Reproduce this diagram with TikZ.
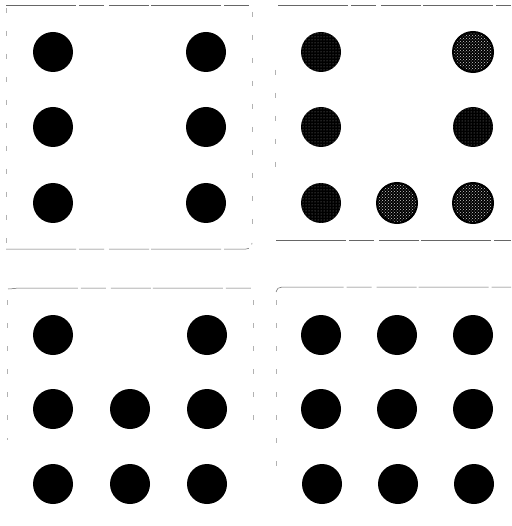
\documentclass[tikz,border=0pt]{standalone}
\usetikzlibrary{patterns}
\begin{document}
\begin{tikzpicture}[x=1pt,y=-1pt,
  dot/.style={circle,fill=black,inner sep=0pt,minimum size=40pt},
  speck/.style={circle,fill=black,inner sep=0pt,minimum size=40pt,postaction={pattern=dots,pattern color=black!45}},
  light/.style={circle,fill=black,inner sep=0pt,minimum size=40pt,postaction={pattern=crosshatch dots,pattern color=black!20},postaction={draw=black,line width=2pt}},
  edge/.style={black!60,line width=0.5pt,dash pattern=on 70pt off 3pt on 25pt off 5pt on 40pt off 2pt},
  side/.style={black!30,line width=0.5pt,dash pattern=on 5pt off 18pt}]
\useasboundingbox (0,0) rectangle (511,526);
\fill[white] (0,0) rectangle (511,526);
% panel borders
\draw[edge] (6,5) -- (252,5);
\draw[edge] (6,249) -- (246,249) to[out=0,in=-90] (252,243);
\draw[side] (6,8) -- (6,245);
\draw[side] (252,12) -- (252,240);
\draw[edge] (278,5) -- (511,5);
\draw[edge] (276,240) -- (511,240);
\draw[side] (275,70) -- (275,170);
\draw[edge] (8,289) to[out=0,in=180] (20,288) -- (252,288);
\draw[side] (7,300) -- (7,440);
\draw[side] (253,300) -- (253,430);
\draw[edge] (276,292) to[out=90,in=180] (282,287) -- (511,287);
\draw[side] (276,300) -- (276,480);
% panel 1
\node[dot] (a11) at (53,52) {};
\node[dot] (a13) at (206,52) {};
\node[dot] (a21) at (53,127) {};
\node[dot] (a23) at (206,127) {};
\node[dot] (a31) at (53,203) {};
\node[dot] (a33) at (206,203) {};
% panel 2
\node[speck] (b11) at (321,52) {};
\node[light] (b13) at (473,52) {};
\node[speck] (b21) at (321,127) {};
\node[speck] (b23) at (473,127) {};
\node[speck] (b31) at (321,203) {};
\node[light] (b32) at (397,203) {};
\node[light] (b33) at (473,203) {};
% panel 3
\node[dot] (c11) at (53,335) {};
\node[dot] (c13) at (207,335) {};
\node[dot] (c21) at (53,409) {};
\node[dot] (c22) at (130,409) {};
\node[dot] (c23) at (207,409) {};
\node[dot] (c31) at (53,484) {};
\node[dot] (c32) at (130,484) {};
\node[dot] (c33) at (207,484) {};
% panel 4
\node[dot] (d11) at (321,335) {};
\node[dot] (d12) at (397,335) {};
\node[dot] (d13) at (473,335) {};
\node[dot] (d21) at (321,409) {};
\node[dot] (d22) at (397,409) {};
\node[dot] (d23) at (473,409) {};
\node[dot] (d31) at (322,484) {};
\node[dot] (d32) at (398,484) {};
\node[dot] (d33) at (474,484) {};
\end{tikzpicture}
\end{document}
